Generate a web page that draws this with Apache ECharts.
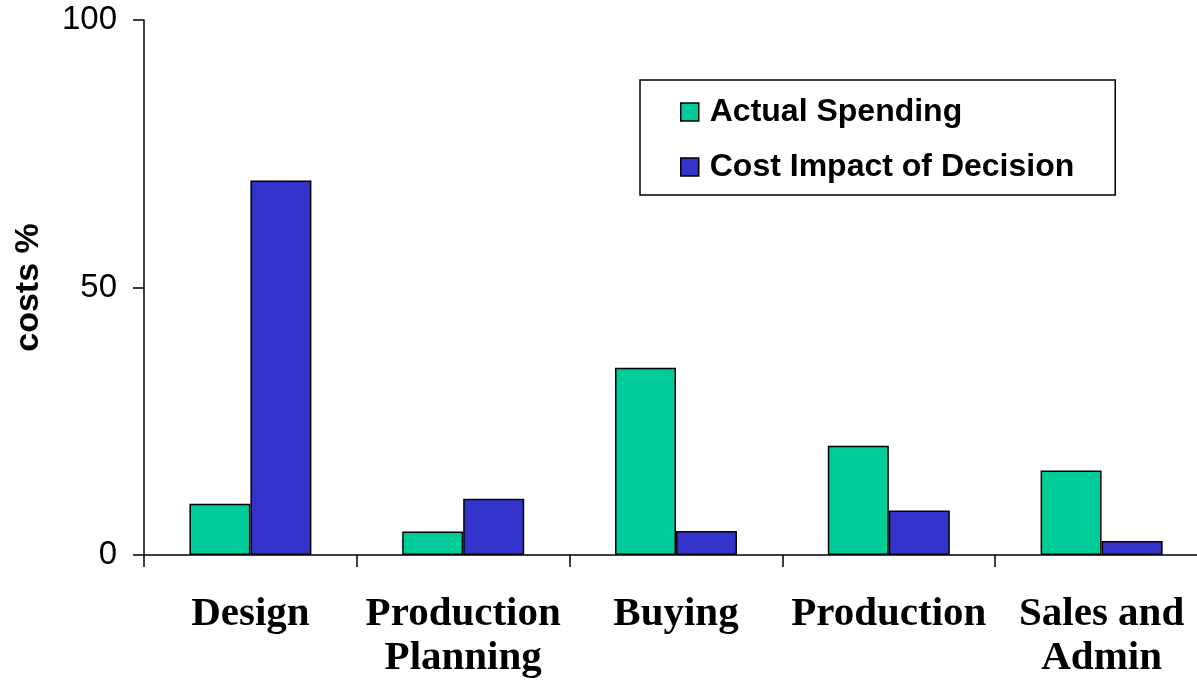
<!DOCTYPE html>
<html>
<head>
<meta charset="utf-8">
<title>Costs by stage</title>
<script src="https://cdn.jsdelivr.net/npm/echarts@6/dist/echarts.min.js"></script>
<style>
  html, body { margin: 0; padding: 0; background: #fff; overflow: hidden; }
  #chart { width: 1197px; height: 682px; }
</style>
</head>
<body>
<div id="chart"></div>
<script>
// Stages of the product life cycle
const categories = ['Design', 'Production\nPlanning', 'Buying', 'Production', 'Sales and\nAdmin'];
// Share of costs (%) per stage
const actualSpending = [9.6, 4.4, 35, 20.4, 15.8];
const costImpact = [70, 10.5, 4.5, 8.3, 2.6];
const seriesNames = ['Actual Spending', 'Cost Impact of Decision'];
const yTicks = { min: 0, max: 100, interval: 50 };

const chart = echarts.init(document.getElementById('chart'), null, { renderer: 'canvas' });

const barBorder = { borderColor: '#000', borderWidth: 1.5 };

chart.setOption({
  animation: false,
  backgroundColor: '#fff',
  // the plot runs slightly past the right edge of the canvas
  grid: {
    left: 144, width: 1064, top: 20, bottom: 127,
    containLabel: false,
    outerBoundsMode: 'none'
  },
  legend: {
    orient: 'vertical',
    left: 640,
    top: 80,
    padding: [14, 41, 10, 40],
    borderColor: '#000',
    borderWidth: 1.5,
    itemWidth: 18,
    itemHeight: 18,
    itemGap: 19,
    icon: 'rect',
    itemStyle: { borderColor: '#000', borderWidth: 1.5 },
    textStyle: {
      fontFamily: 'Liberation Sans, Arial, sans-serif',
      fontWeight: 'bold',
      fontSize: 32,
      lineHeight: 36,
      color: '#000',
      padding: [0, 0, 0, 6]
    },
    data: seriesNames
  },
  xAxis: {
    type: 'category',
    data: categories,
    axisLine: { lineStyle: { color: '#000', width: 1.5 } },
    axisTick: { show: true, length: 12, lineStyle: { color: '#000', width: 1.5 } },
    axisLabel: {
      interval: 0,
      margin: 37,
      color: '#000',
      fontFamily: 'Liberation Serif, Times New Roman, serif',
      fontWeight: 'bold',
      fontSize: 41,
      lineHeight: 44
    }
  },
  yAxis: {
    type: 'value',
    min: yTicks.min,
    max: yTicks.max,
    interval: yTicks.interval,
    name: 'costs %',
    nameLocation: 'middle',
    nameGap: 98,
    nameTextStyle: {
      fontFamily: 'Liberation Sans, Arial, sans-serif',
      fontWeight: 'bold',
      fontSize: 34,
      color: '#000'
    },
    splitLine: { show: false },
    axisLine: { show: true, lineStyle: { color: '#000', width: 1.5 } },
    axisTick: { show: true, length: 11, lineStyle: { color: '#000', width: 1.5 } },
    axisLabel: {
      margin: 27,
      color: '#000',
      fontFamily: 'Liberation Sans, Arial, sans-serif',
      fontSize: 33
    }
  },
  series: [
    {
      name: seriesNames[0],
      type: 'bar',
      data: actualSpending,
      barWidth: 61,
      barGap: '0%',
      itemStyle: Object.assign({ color: '#00CC99' }, barBorder)
    },
    {
      name: seriesNames[1],
      type: 'bar',
      data: costImpact,
      barWidth: 61,
      barGap: '0%',
      itemStyle: Object.assign({ color: '#3333CC' }, barBorder)
    }
  ]
});
</script>
</body>
</html>
